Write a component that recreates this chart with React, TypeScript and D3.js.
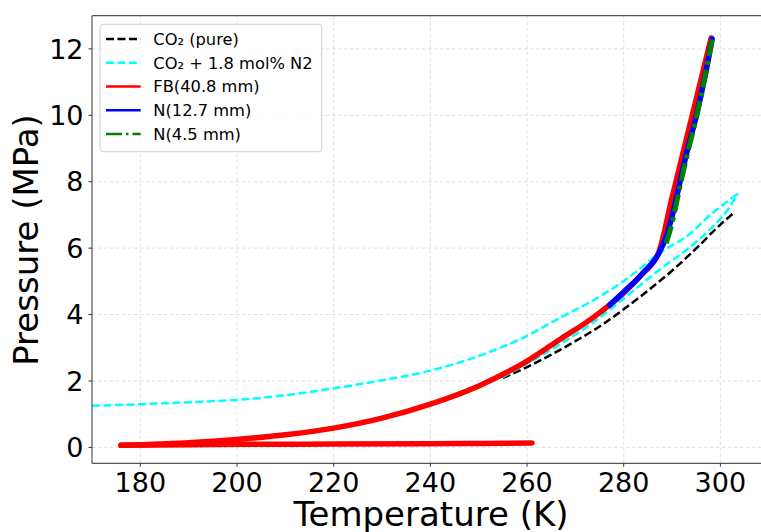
import React from "react";
import * as d3 from "d3";

// CO2 (pure) saturation line
const co2T = [255, 260, 265, 270, 275, 280, 285, 290, 295, 300, 302.5];
const co2P = [2.09, 2.42, 2.79, 3.2, 3.64, 4.16, 4.72, 5.32, 5.99, 6.71, 7.03];

// CO2 + 1.8 mol% N2 envelope: bubble branch and dew branch
const bubbleT = [170, 180, 190, 200, 210, 220, 230, 240, 250, 260, 266.8, 273.6, 280.6, 287.4, 294.3, 297.1, 300.5, 303.6];
const bubbleP = [1.25, 1.3, 1.36, 1.43, 1.57, 1.78, 2.02, 2.31, 2.75, 3.36, 3.9, 4.42, 5.07, 5.85, 6.5, 6.9, 7.3, 7.64];
const dewT = [255, 260, 266.8, 273.6, 280.6, 287.4, 294.3, 298.8, 301.5, 303.6];
const dewP = [2.12, 2.52, 3.1, 3.75, 4.55, 5.35, 6.1, 6.7, 7.15, 7.64];

// FB(40.8 mm): flat branch and rising branch
const fbFlatT = [176, 190, 200, 220, 240, 250, 261];
const fbFlatP = [0.06, 0.08, 0.09, 0.1, 0.11, 0.12, 0.13];
const fbRiseT = [176, 180, 190, 200, 210, 220, 230, 240, 250, 260, 266.8, 273.6, 277.1, 280, 284, 287.2, 290, 293, 296, 298.1];
const fbRiseP = [0.06, 0.08, 0.14, 0.24, 0.38, 0.58, 0.88, 1.3, 1.85, 2.6, 3.25, 3.9, 4.29, 4.65, 5.25, 5.85, 7.52, 9.3, 11.08, 12.33];

// N(12.7 mm)
const n127T = [277.1, 280, 284, 287.3, 288.8, 290, 291.6, 293, 295, 297, 298.3];
const n127P = [4.29, 4.68, 5.25, 5.85, 6.35, 6.95, 7.96, 8.85, 9.97, 11.3, 12.3];

// N(4.5 mm)
const n45T = [288.8, 290, 291.8, 293.2, 295.1, 297, 298.3];
const n45P = [6.15, 6.75, 7.96, 8.85, 9.97, 11.3, 12.28];

const xTicks = [180, 200, 220, 240, 260, 280, 300];
const yTicks = [0, 2, 4, 6, 8, 10, 12];

const series = [
  { name: "CO₂ (pure)", parts: [[co2T, co2P]], color: "#000000", width: 2.5, dash: "8 3.5", legendDash: "8 3.5" },
  { name: "CO₂ + 1.8 mol% N2", parts: [[bubbleT, bubbleP], [dewT, dewP]], color: "#00ffff", width: 2.5, dash: "8 3.5", legendDash: "8 3.5" },
  { name: "FB(40.8 mm)", parts: [[fbFlatT, fbFlatP], [fbRiseT, fbRiseP]], color: "#ff0000", width: 5.5, dash: null, legendDash: null },
  { name: "N(12.7 mm)", parts: [[n127T, n127P]], color: "#0000ff", width: 5.5, dash: null, legendDash: null },
  { name: "N(4.5 mm)", parts: [[n45T, n45P]], color: "#008000", width: 5, dash: "18 5 4 5", legendDash: "16 4 2.5 4" },
];

const W = 761;
const H = 532;
const font = "DejaVu Sans, sans-serif";

export default function App() {
  const x = d3.scaleLinear().domain([170, 310]).range([92, 768.7]);
  const y = d3.scaleLinear().domain([-0.48, 13.0]).range([463.3, 15.7]);
  const [x0, x1] = x.range();
  const [yb, yt] = y.range();

  const line = d3
    .line<[number, number]>()
    .x(d => x(d[0]))
    .y(d => y(d[1]))
    .curve(d3.curveMonotoneX);

  return (
    <svg width={W} height={H} style={{ position: "absolute", left: 0, top: 0, background: "#fff" }}>
      <defs>
        <clipPath id="plot">
          <rect x={x0} y={yt} width={x1 - x0} height={yb - yt} />
        </clipPath>
      </defs>

      {/* grid */}
      <g stroke="#d8d8d8" strokeWidth={0.8} strokeDasharray="3.5 2.5">
        {xTicks.map(t => (
          <line key={"gx" + t} x1={x(t)} x2={x(t)} y1={yt} y2={yb} />
        ))}
        {yTicks.map(t => (
          <line key={"gy" + t} x1={x0} x2={x1} y1={y(t)} y2={y(t)} />
        ))}
      </g>

      {/* data */}
      <g clipPath="url(#plot)" fill="none" strokeLinejoin="round">
        {series.map(s =>
          s.parts.map((part, k) => (
            <path
              key={s.name + k}
              d={line(part[0].map((t, i) => [t, part[1][i]] as [number, number])) || ""}
              stroke={s.color}
              strokeWidth={s.width}
              strokeDasharray={s.dash || undefined}
              strokeLinecap={s.dash ? "butt" : "round"}
            />
          ))
        )}
      </g>

      {/* spines */}
      <g stroke="#555" strokeWidth={1.2}>
        <line x1={x0} x2={x0} y1={yt} y2={yb} />
        <line x1={x0} x2={x1} y1={yb} y2={yb} />
        <line x1={x0} x2={x1} y1={yt} y2={yt} />
      </g>

      {/* ticks */}
      <g stroke="#333" strokeWidth={1}>
        {xTicks.map(t => (
          <line key={"tx" + t} x1={x(t)} x2={x(t)} y1={yb} y2={yb + 3.5} />
        ))}
        {yTicks.map(t => (
          <line key={"ty" + t} x1={x0} x2={x0 - 3.5} y1={y(t)} y2={y(t)} />
        ))}
      </g>
      <g fontFamily={font} fontSize={27} fill="#000">
        {xTicks.map(t => (
          <text key={"lx" + t} x={x(t)} y={491.5} textAnchor="middle">
            {t}
          </text>
        ))}
        {yTicks.map(t => (
          <text key={"ly" + t} x={83.5} y={y(t)} dy="0.36em" textAnchor="end">
            {t}
          </text>
        ))}
      </g>

      {/* axis labels */}
      <text x={431} y={526} textAnchor="middle" fontFamily={font} fontSize={34}>
        Temperature (K)
      </text>
      <text
        transform="translate(38,240) rotate(-90)"
        textAnchor="middle"
        fontFamily={font}
        fontSize={34}
      >
        Pressure (MPa)
      </text>

      {/* legend */}
      <g fontFamily={font} fontSize={16.3}>
        <rect x={100} y={24.3} width={221.7} height={127.4} rx={3} fill="#fff" fillOpacity={0.8} stroke="#cccccc" strokeWidth={1} />
        {series.map((s, i) => {
          const cy = 39 + i * 23.75;
          return (
            <g key={"lg" + s.name}>
              <line
                x1={106}
                x2={140.7}
                y1={cy}
                y2={cy}
                stroke={s.color}
                strokeWidth={2.7}
                strokeDasharray={s.legendDash || undefined}
              />
              <text x={153.3} y={cy} dy="0.36em">
                {s.name}
              </text>
            </g>
          );
        })}
      </g>
    </svg>
  );
}
